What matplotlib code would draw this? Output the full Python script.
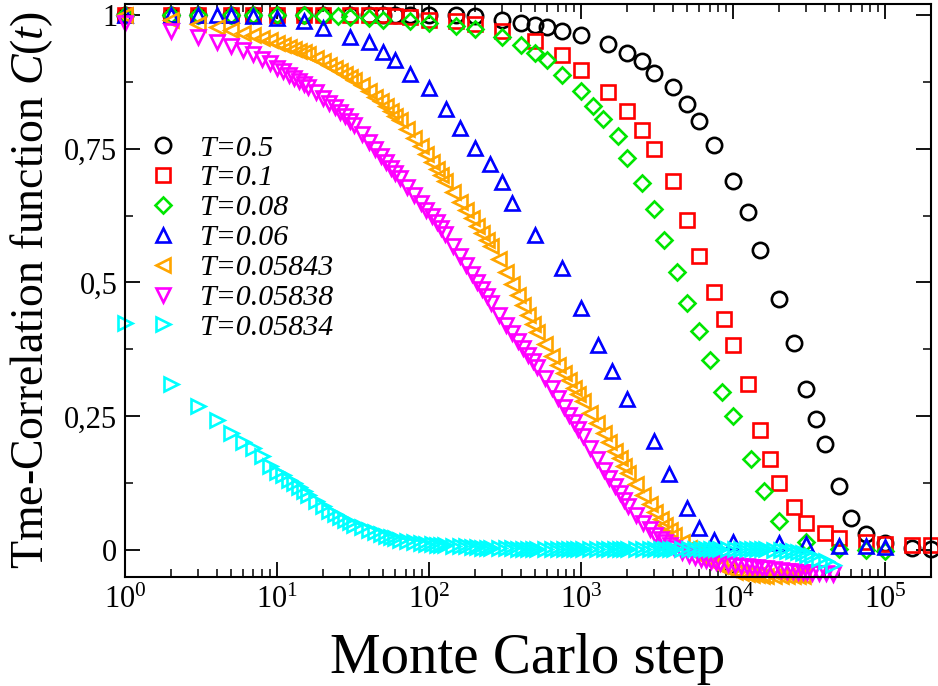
import matplotlib
matplotlib.use("Agg")
import matplotlib.pyplot as plt
from matplotlib.ticker import (FixedLocator, FixedFormatter, MultipleLocator,
                               LogLocator, FuncFormatter, NullFormatter)
import numpy as np

plt.rcParams["font.family"] = "Liberation Serif"
plt.rcParams["mathtext.fontset"] = "custom"
plt.rcParams["mathtext.rm"] = "Liberation Serif"
plt.rcParams["mathtext.it"] = "Liberation Serif:italic"

# Sparse runs (hand-picked measurement times)
t_05 = [1, 2, 3, 5, 7, 10, 15, 20, 30, 40, 50, 60, 75, 100, 150, 200, 300, 400,
        500, 600, 750, 1000, 1500, 2000, 2500, 3000, 4000, 5000, 6000, 7500,
        10000, 12500, 15000, 20000, 25000, 30000, 35000, 40000, 50000, 60000,
        75000, 100000, 150000, 200000]
c_05 = [1.0, 1.0, 1.0, 1.0, 1.0, 1.0, 1.0, 1.0, 1.0, 1.0, 1.0, 1.0, 1.0, 0.999,
        0.999, 0.997, 0.990, 0.985, 0.981, 0.977, 0.969, 0.963, 0.946, 0.929,
        0.913, 0.891, 0.865, 0.834, 0.801, 0.757, 0.690, 0.631, 0.560, 0.469,
        0.387, 0.301, 0.245, 0.199, 0.119, 0.060, 0.030, 0.014, 0.004, 0.003]

t_01 = [1, 2, 3, 5, 7, 10, 15, 20, 30, 40, 50, 60, 75, 100, 150, 200, 300, 500,
        750, 1000, 1500, 2000, 2500, 3000, 4000, 5000, 6000, 7500, 8750, 10000,
        12500, 15000, 17500, 20000, 25000, 30000, 40000, 50000, 75000, 100000,
        150000, 200000]
c_01 = [1.0, 1.0, 1.0, 1.0, 1.0, 1.0, 1.0, 1.0, 1.0, 1.0, 0.999, 0.998, 0.995,
        0.991, 0.988, 0.983, 0.969, 0.950, 0.924, 0.897, 0.855, 0.821, 0.785,
        0.749, 0.690, 0.617, 0.550, 0.483, 0.431, 0.383, 0.311, 0.225, 0.171,
        0.125, 0.081, 0.050, 0.032, 0.023, 0.016, 0.0125, 0.009, 0.009]

t_008 = [1, 2, 3, 5, 7, 10, 15, 20, 25, 30, 40, 50, 75, 100, 150, 200, 300, 400,
         500, 600, 750, 1000, 1200, 1400, 1750, 2000, 2500, 3000, 3500, 4250,
         5000, 6000, 7000, 8500, 10000, 13000, 16000, 20000, 30000, 50000,
         75000, 100000]
c_008 = [1.0, 1.0, 1.0, 1.0, 1.0, 1.0, 1.0, 0.997, 0.997, 0.996, 0.994, 0.991,
         0.988, 0.985, 0.978, 0.973, 0.959, 0.944, 0.929, 0.916, 0.887, 0.858,
         0.830, 0.806, 0.774, 0.733, 0.686, 0.637, 0.580, 0.520, 0.462, 0.410,
         0.355, 0.295, 0.250, 0.171, 0.110, 0.055, 0.016, 0.003, 0.000, -0.001]

t_006 = [1, 2, 3, 4, 5, 7, 10, 15, 20, 30, 40, 50, 60, 75, 100, 130, 160, 200,
         250, 300, 350, 500, 750, 1000, 1300, 1600, 2000, 3000, 3800, 5000,
         6000, 7500, 10000, 20000, 30000, 50000, 75000, 100000]
c_006 = [1.0, 1.0, 1.0, 1.0, 1.0, 0.997, 0.994, 0.988, 0.975, 0.959, 0.949,
         0.931, 0.916, 0.889, 0.864, 0.823, 0.789, 0.752, 0.722, 0.687, 0.649,
         0.589, 0.527, 0.453, 0.383, 0.334, 0.283, 0.204, 0.143, 0.079, 0.042,
         0.020, 0.016, 0.013, 0.011, 0.007, 0.007, 0.006]

# Dense runs share one time grid: every step up to 15, then 8 steps per doubling
t_dense = [1, 2, 3, 4, 5, 6, 7, 8, 9, 10, 11, 12, 13, 14, 15,
           16, 18, 20, 22, 24, 26, 28, 30,
           32, 36, 40, 44, 48, 52, 56, 60,
           64, 72, 80, 88, 96, 104, 112, 120,
           128, 144, 160, 176, 192, 208, 224, 240,
           256, 288, 320, 352, 384, 416, 448, 480,
           512, 576, 640, 704, 768, 832, 896, 960,
           1024, 1152, 1280, 1408, 1536, 1664, 1792, 1920,
           2048, 2304, 2560, 2816, 3072, 3328, 3584, 3840,
           4096, 4608, 5120, 5632, 6144, 6656, 7168, 7680,
           8192, 9216, 10240, 11264, 12288, 13312, 14336, 15360,
           16384, 18432, 20480, 22528, 24576, 26624, 28672, 30720,
           32768, 36864, 40960, 45056]

c_05843 = [1.000, 0.990, 0.983, 0.977, 0.971, 0.966, 0.962, 0.957, 0.952, 0.948,
           0.944, 0.940, 0.936, 0.933, 0.930,
           0.926, 0.920, 0.914, 0.907, 0.901, 0.895, 0.890, 0.884,
           0.879, 0.868, 0.858, 0.847, 0.838, 0.829, 0.820, 0.811,
           0.803, 0.786, 0.770, 0.754, 0.739, 0.725, 0.712, 0.700,
           0.689, 0.669, 0.651, 0.635, 0.620, 0.606, 0.593, 0.580,
           0.568, 0.544, 0.519, 0.497, 0.477, 0.457, 0.439, 0.423,
           0.408, 0.385, 0.363, 0.345, 0.331, 0.317, 0.303, 0.291,
           0.279, 0.257, 0.237, 0.218, 0.202, 0.186, 0.172, 0.158,
           0.145, 0.123, 0.103, 0.086, 0.071, 0.058, 0.047, 0.037,
           0.029, 0.016, 0.005, -0.003, -0.011, -0.017, -0.022, -0.026,
           -0.030, -0.035, -0.040, -0.042, -0.044, -0.046, -0.047, -0.048,
           -0.048, -0.049, -0.049, -0.049, -0.049, -0.049, -0.049]

c_05838 = [0.985, 0.969, 0.958, 0.949, 0.941, 0.934, 0.926, 0.918, 0.910, 0.901,
           0.894, 0.888, 0.882, 0.876, 0.870,
           0.865, 0.855, 0.845, 0.835, 0.827, 0.818, 0.810, 0.802,
           0.794, 0.778, 0.763, 0.749, 0.736, 0.725, 0.714, 0.704,
           0.695, 0.678, 0.663, 0.649, 0.636, 0.624, 0.612, 0.601,
           0.590, 0.569, 0.550, 0.532, 0.516, 0.501, 0.487, 0.474,
           0.461, 0.439, 0.421, 0.405, 0.391, 0.378, 0.365, 0.353,
           0.342, 0.321, 0.302, 0.284, 0.268, 0.253, 0.240, 0.227,
           0.214, 0.191, 0.170, 0.150, 0.134, 0.119, 0.106, 0.094,
           0.083, 0.066, 0.051, 0.039, 0.029, 0.021, 0.015, 0.009,
           0.004, -0.003, -0.009, -0.013, -0.016, -0.018, -0.020, -0.022,
           -0.024, -0.026, -0.027, -0.029, -0.030, -0.031, -0.032, -0.033,
           -0.034, -0.035, -0.037, -0.038, -0.039, -0.040, -0.040, -0.041,
           -0.042, -0.042, -0.043, -0.044]

c_05834 = [0.425, 0.310, 0.269, 0.243, 0.218, 0.203, 0.191, 0.176, 0.158, 0.146,
           0.140, 0.132, 0.126, 0.118, 0.110,
           0.104, 0.092, 0.083, 0.074, 0.067, 0.062, 0.057, 0.052,
           0.048, 0.043, 0.038, 0.034, 0.030, 0.027, 0.024, 0.022,
           0.020, 0.017, 0.015, 0.013, 0.012, 0.011, 0.010, 0.009,
           0.009, 0.008, 0.007, 0.007, 0.006, 0.006, 0.005, 0.005,
           0.005, 0.004, 0.004, 0.004, 0.003, 0.003, 0.003, 0.003,
           0.003, 0.003, 0.002, 0.002, 0.003, 0.002, 0.002, 0.002,
           0.002, 0.003, 0.002, 0.002, 0.002, 0.003, 0.002, 0.002,
           0.002, 0.003, 0.002, 0.002, 0.003, 0.003, 0.002, 0.002,
           0.003, 0.003, 0.002, 0.003, 0.003, 0.002, 0.002, 0.003,
           0.003, 0.002, 0.003, 0.003, 0.002, 0.002, 0.002, 0.002,
           0.002, 0.001, 0.000, -0.001, -0.002, -0.004, -0.006, -0.008,
           -0.010, -0.016, -0.021, -0.027]

series = [
    (t_05, c_05, "o", "black", 11.0, "T=0.5"),
    (t_01, c_01, "s", "red", 9.6, "T=0.1"),
    (t_008, c_008, "D", "#00e600", 7.8, "T=0.08"),
    (t_006, c_006, "^", "blue", 10.5, "T=0.06"),
    (t_dense[:len(c_05843)], c_05843, "<", "orange", 10.5, "T=0.05843"),
    (t_dense[:len(c_05838)], c_05838, "v", "magenta", 10.5, "T=0.05838"),
    (t_dense[:len(c_05834)], c_05834, ">", "cyan", 10.5, "T=0.05834"),
]

fig = plt.figure(figsize=(9.38, 6.86), dpi=100)
ax = fig.add_axes([125 / 938, 109 / 686, 806 / 938, 573 / 686])

for t, c, marker, color, ms, label in series:
    ax.plot(t, c, linestyle="none", marker=marker, ms=ms, mfc="none",
            mec=color, mew=1.9, clip_on=False, label=label)

ax.set_xscale("log")
ax.set_xlim(1, 2e5)
ax.set_ylim(-0.05, 1.02)

ax.xaxis.set_major_locator(LogLocator(base=10, numticks=10))
ax.xaxis.set_minor_locator(LogLocator(base=10, subs=np.arange(2, 10), numticks=30))
ax.xaxis.set_major_formatter(
    FuncFormatter(lambda v, pos: r"$\mathrm{10^{%d}}$" % round(np.log10(v))))
ax.xaxis.set_minor_formatter(NullFormatter())

y_ticks = [0, 0.25, 0.5, 0.75, 1]
y_labels = ["0", "0,25", "0,5", "0,75", "1"]
ax.yaxis.set_major_locator(FixedLocator(y_ticks))
ax.yaxis.set_major_formatter(FixedFormatter(y_labels))
ax.yaxis.set_minor_locator(MultipleLocator(0.125))

ax.tick_params(which="both", direction="in", top=True, right=True)
ax.tick_params(which="major", length=11, width=1.3, labelsize=22)
ax.tick_params(which="minor", length=5.5, width=1.1)
ax.tick_params(axis="y", which="major", pad=5.5)
ax.tick_params(axis="x", which="major", pad=6)
for sp in ax.spines.values():
    sp.set_linewidth(1.5)

ax.set_xlabel("Monte Carlo step", fontsize=41)
ax.xaxis.set_label_coords(0.5, -0.097)
ax.set_ylabel(r"Tme-Correlation function $\mathit{C(t)}$", fontsize=33)
ax.yaxis.set_label_coords(-0.087, 0.5)

ax.legend(loc="upper left", bbox_to_anchor=(0.029, 0.772), frameon=False,
          prop={"family": "Liberation Serif", "style": "italic", "size": 21.5},
          handlelength=1.0, handletextpad=0.7, labelspacing=0.10,
          borderpad=0, borderaxespad=0, numpoints=1)

fig.savefig("out.png", dpi=100)
